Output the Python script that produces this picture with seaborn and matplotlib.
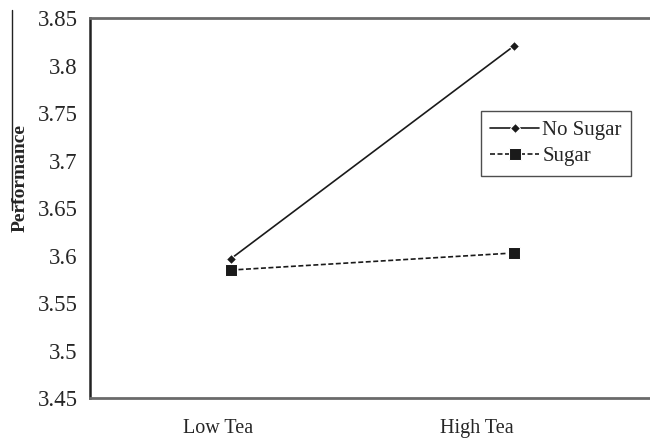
import matplotlib
matplotlib.use('Agg')
import matplotlib.pyplot as plt
from matplotlib.lines import Line2D
import seaborn as sns
import pandas as pd

# values
tea = ['Low Tea', 'High Tea']
no_sugar = [3.597, 3.821]
sugar = [3.585, 3.603]
yticks = [3.45, 3.5, 3.55, 3.6, 3.65, 3.7, 3.75, 3.8, 3.85]

df = pd.DataFrame({
    'Tea': tea * 2,
    'Performance': no_sugar + sugar,
    'Group': ['No Sugar'] * 2 + ['Sugar'] * 2,
})

sns.set_style("white")
plt.rcParams['font.family'] = ['Liberation Serif', 'DejaVu Serif']

fig = plt.figure(figsize=(6.5, 4.42), dpi=100)
ax = fig.add_axes([90/650, 1 - 398.3/442, 1 - 90/650, (398.3 - 18.3)/442])

sns.lineplot(data=df, x='Tea', y='Performance', hue='Group', style='Group',
             palette={'No Sugar': '#1a1a1a', 'Sugar': '#1a1a1a'},
             markers={'No Sugar': 'D', 'Sugar': 's'},
             dashes={'No Sugar': '', 'Sugar': (3, 1.5)},
             markersize=6, linewidth=1.2, ax=ax)
# bigger square markers
for line in ax.get_lines():
    if line.get_marker() == 's':
        line.set_markersize(8)
    elif line.get_marker() == 'D':
        line.set_markersize(5)

ax.set_xlim(-0.498, 1.48)
ax.set_ylim(3.45, 3.85)
ax.set_yticks(yticks)
ax.set_yticklabels(['%g' % v for v in yticks])
ax.set_xticks([-0.046, 0.87])
ax.set_xticklabels(tea)
ax.set_xticks([-0.498, 0.41], minor=True)
ax.tick_params(axis='x', which='major', length=0, pad=15, labelsize=14.5)
ax.tick_params(axis='x', which='minor', length=6, width=1.2, direction='out', color='#222222')
ax.tick_params(axis='y', length=6, width=1.2, direction='out', color='#222222', pad=3, labelsize=16.5)
ax.set_xlabel('')
ax.set_ylabel('')

for s in ['top', 'bottom']:
    ax.spines[s].set_color('#6a6a6a')
    ax.spines[s].set_linewidth(2)
ax.spines['left'].set_color('#222222')
ax.spines['left'].set_linewidth(1.8)
ax.spines['right'].set_visible(False)

leg = ax.legend(loc='upper left', bbox_to_anchor=(0.698, 0.755), borderaxespad=0,
                fontsize=15, frameon=True, fancybox=False, handlelength=2.35,
                handletextpad=0.15, borderpad=0.45, labelspacing=0.3)
leg.get_frame().set_edgecolor('#222222')
leg.get_frame().set_linewidth(1.0)

fig.text(20/650, 1 - 178/442, 'Performance', rotation=90, ha='center', va='center',
         fontsize=14, fontweight='bold')
fig.add_artist(Line2D([12/650, 12/650], [1 - 10/442, 1 - 210/442], color='#222222', lw=1))

plt.savefig('out.png', dpi=100)
